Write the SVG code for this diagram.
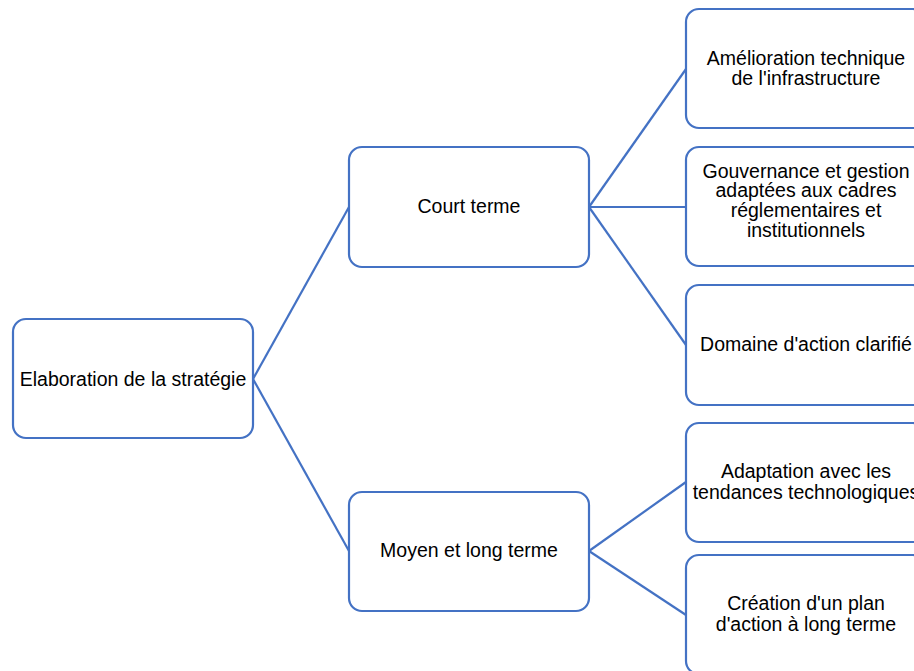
<svg xmlns="http://www.w3.org/2000/svg" width="914" height="671" viewBox="0 0 914 671">
<style>
.box{fill:#ffffff;stroke:#4472C4;stroke-width:2.2}
.lbl{font-family:"Liberation Sans",Arial,sans-serif;font-size:19.5px;fill:#000000;text-anchor:middle}
.con{stroke:#4472C4;stroke-width:2.2;fill:none}
</style>
<rect width="914" height="671" fill="#ffffff"/>
<g id="connectors">
<line class="con" x1="253" y1="379" x2="349" y2="207"/>
<line class="con" x1="253" y1="379" x2="349" y2="551"/>
<line class="con" x1="589" y1="207" x2="686" y2="69"/>
<line class="con" x1="589" y1="207" x2="686" y2="207"/>
<line class="con" x1="589" y1="207" x2="686" y2="345"/>
<line class="con" x1="589" y1="551" x2="686" y2="482"/>
<line class="con" x1="589" y1="551" x2="686" y2="615"/>
</g>
<g id="root">
<rect class="box" x="13" y="319" width="240" height="119" rx="13"/>
<text class="lbl" x="133" y="386">Elaboration de la stratégie</text>
</g>
<g id="court">
<rect class="box" x="349" y="147" width="240" height="120" rx="13"/>
<text class="lbl" x="469" y="213">Court terme</text>
</g>
<g id="moyen">
<rect class="box" x="349" y="492" width="240" height="119" rx="13"/>
<text class="lbl" x="469" y="557">Moyen et long terme</text>
</g>
<g id="amelioration">
<rect class="box" x="686" y="9" width="240" height="119" rx="13"/>
<text class="lbl" x="806" y="65">Amélioration technique</text>
<text class="lbl" x="806" y="85">de l'infrastructure</text>
</g>
<g id="gouvernance">
<rect class="box" x="686" y="147" width="240" height="119" rx="13"/>
<text class="lbl" x="806" y="178">Gouvernance et gestion</text>
<text class="lbl" x="806" y="197">adaptées aux cadres</text>
<text class="lbl" x="806" y="217">réglementaires et</text>
<text class="lbl" x="806" y="237">institutionnels</text>
</g>
<g id="domaine">
<rect class="box" x="686" y="285" width="240" height="120" rx="13"/>
<text class="lbl" x="806" y="351">Domaine d'action clarifié</text>
</g>
<g id="adaptation">
<rect class="box" x="686" y="423" width="240" height="119" rx="13"/>
<text class="lbl" x="806" y="478">Adaptation avec les</text>
<text class="lbl" x="806" y="499">tendances technologiques</text>
</g>
<g id="creation">
<rect class="box" x="686" y="555" width="240" height="119" rx="13"/>
<text class="lbl" x="806" y="610">Création d'un plan</text>
<text class="lbl" x="806" y="631">d'action à long terme</text>
</g>
</svg>
